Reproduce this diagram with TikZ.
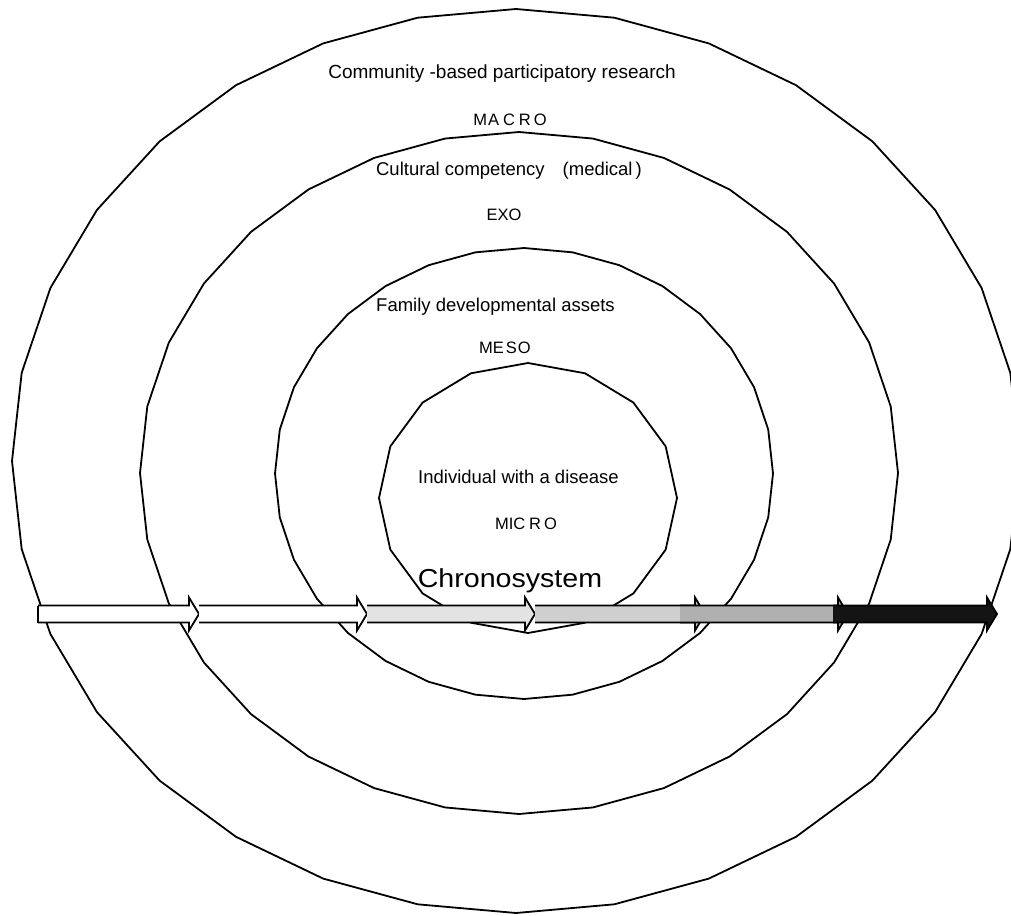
\documentclass[tikz,border=0pt]{standalone}
\usepackage{fontspec}
\setmainfont{Liberation Sans}
\newcommand{\chronoseg}[4]{%
  \fill[#3] (#1,605.5) -- ({#2-10},605.5) -- ({#2-10},597.5) -- (#2,614) -- ({#2-10},630.5) -- ({#2-10},622.5) -- (#1,622.5) -- cycle;
  \draw[arr,#4] (#1,605.5) -- ({#2-10},605.5) -- ({#2-10},597.5) -- (#2,614) -- ({#2-10},630.5) -- ({#2-10},622.5) -- (#1,622.5);
}
\begin{document}
\begin{tikzpicture}[x=1pt,y=-1pt,
  ring/.style={line width=1.8pt, line join=round},
  arr/.style={line width=1.8pt, line join=miter},
  lbl/.style={anchor=base, inner sep=0pt, font=\fontsize{18.5}{22}\selectfont},
  lvl/.style={anchor=base, inner sep=0pt, font=\fontsize{16.5}{19}\selectfont}]
\useasboundingbox (0,0) rectangle (1011,915);
\clip (0,0) rectangle (1011,915);
% concentric rings (polygonal ellipses)
\draw[ring] plot[samples=33,domain=90:450] ({516+504*cos(\x)},{461+452*sin(\x)}) -- cycle;
\draw[ring] plot[samples=33,domain=90:450] ({519+379*cos(\x)},{473+341*sin(\x)}) -- cycle;
\draw[ring] plot[samples=33,domain=90:450] ({524+249*cos(\x)},{473.5+225.5*sin(\x)}) -- cycle;
\draw[ring] plot[samples=17,domain=90:450] ({528+149*cos(\x)},{498+135*sin(\x)}) -- cycle;
% labels
\node[lbl,font=\fontsize{19}{22}\selectfont] (cbpr) at (502,79) {Community -based participatory research};
\node[lvl] (macro) at (510,125) {M\kern1pt A\kern4pt C\kern4pt R\kern3pt O};
\node[lbl] (cult) at (509,175) {Cultural competency\hspace{18pt}(medical\,)};
\node[lvl] (exo) at (504,220) {EXO};
\node[lbl] (fam) at (495.5,311) {Family developmental assets};
\node[lvl] (meso) at (505,353) {ME\kern2pt S\kern1pt O};
\node[lbl] (ind) at (518.5,483) {Individual with a disease};
\node[lvl] (micro) at (526,529) {MIC\kern4pt R\kern3pt O};
\node[anchor=base, inner sep=0pt, font=\fontsize{26}{30}\selectfont] (chrono) at (510,587) {\scalebox{1.1}[1]{Chronosystem}};
% chronosystem arrow (time segments)
\chronoseg{38}{199}{white}{}
\draw[arr] (38,605.5) -- (38,622.5);
\chronoseg{199}{367}{white}{}
\chronoseg{367}{535}{gray!22}{}
\chronoseg{535}{705}{gray!38}{}
\chronoseg{680}{848}{gray!62}{}
\chronoseg{833}{997}{black!92}{}
\end{tikzpicture}
\end{document}
